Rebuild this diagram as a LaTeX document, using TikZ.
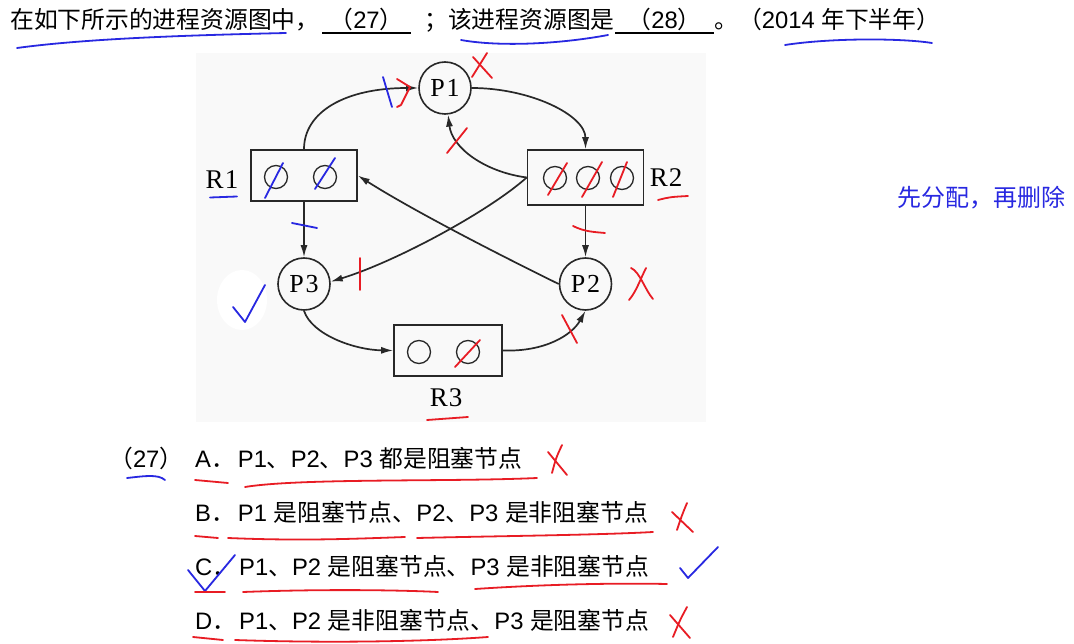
\documentclass[tikz,border=0pt]{standalone}
\usepackage{fontspec}
\setmainfont{Liberation Sans}
\newfontfamily\cjk{Noto Sans CJK SC}
\newfontfamily\dgfont{Liberation Serif}
\newcommand\cj[1]{{\cjk #1}}
\usetikzlibrary{arrows.meta}
\definecolor{inkred}{RGB}{232,28,36}
\definecolor{inkblue}{RGB}{40,40,225}
\definecolor{edgec}{RGB}{40,40,40}
\definecolor{bgpic}{RGB}{249,249,249}
\begin{document}
\begin{tikzpicture}[x=1pt,y=-1pt,
  proc/.style={circle,draw=edgec,line width=1.6pt,minimum size=52pt,inner sep=0pt,font=\dgfont\fontsize{26}{26}\selectfont},
  res/.style={rectangle,draw=edgec,line width=1.6pt,inner sep=0pt},
  tok/.style={circle,draw=edgec,line width=1.3pt,minimum size=23pt,inner sep=0pt},
  lbl/.style={font=\dgfont\fontsize{27}{27}\selectfont,inner sep=0pt},
  flow/.style={draw=edgec,line width=1.7pt,-{Latex[length=12pt,width=7pt]}},
  txt/.style={anchor=base west,inner sep=0pt,font=\fontsize{23.8}{28}\selectfont},
  redmark/.style={draw=inkred,line width=1.8pt,line cap=round,line join=round},
  bluemark/.style={draw=inkblue,line width=1.8pt,line cap=round,line join=round},
  blank/.style={draw=black,line width=1.3pt}
]
\useasboundingbox (0,0) rectangle (1074,644);
\fill[white] (0,0) rectangle (1074,644);
\fill[bgpic] (196,53) rectangle (706,422);
\fill[white] (242,300) ellipse [x radius=25, y radius=30];

% ---------- title ----------
\node[txt] (t1) at (10,29) {\cj{在如下所示的进程资源图中，}};
\draw[blank] (322,33) -- (411,33);
\node[txt,anchor=base] (t2) at (366.5,29) {\cj{（}27\cj{）}};
\node[txt] (t3) at (424,29) {\cj{；该进程资源图是}};
\draw[blank] (615,33) -- (714,33);
\node[txt,anchor=base] (t4) at (664.5,29) {\cj{（}28\cj{）}};
\node[txt] (t5) at (714,29) {\cj{。（}2014 \cj{年下半年）}};

% ---------- diagram ----------
\node[proc] (p1) at (445,88) {P\kern2pt1};
\node[proc] (p2) at (585.5,284) {P\kern2pt2};
\node[proc] (p3) at (304,284) {P\kern2pt3};
\node[res,minimum width=106pt,minimum height=51pt] (r1) at (304,175.5) {};
\node[res,minimum width=116pt,minimum height=55pt] (r2) at (585.5,177.5) {};
\node[res,minimum width=108pt,minimum height=51pt] (r3) at (448,350.5) {};
\node[tok] (r1a) at (276,177) {};
\node[tok] (r1b) at (325,177) {};
\node[tok] (r2a) at (555,178) {};
\node[tok] (r2b) at (588,178) {};
\node[tok] (r2c) at (622,178) {};
\node[tok] (r3a) at (419,352) {};
\node[tok] (r3b) at (468,352) {};
\node[lbl] (l1) at (222,180) {R\kern1pt1};
\node[lbl] (l2) at (666,178) {R\kern1pt2};
\node[lbl] (l3) at (446,398) {R\kern1pt3};

\draw[flow] (r1.north) .. controls (304,112) and (345,88) .. (p1);
\draw[flow] (p1) .. controls (530,88) and (585.5,115) .. (r2.north);
\draw[flow] (r2.west) .. controls (485,172) and (452,148) .. (p1);
\draw[flow] (r2.west) .. controls (488,212) and (395,262) .. (p3.5);
\draw[flow] (p2.west) .. controls (520,265) and (420,215) .. (r1.east);
\draw[flow] (r1) -- (p3);
\draw[flow] (r2) -- (p2);
\draw[flow] (p3.south) .. controls (312,335) and (355,350) .. (r3.west);
\draw[flow] (r3.east) .. controls (545,352) and (572,335) .. (p2.south);

% ---------- handwritten marks on diagram ----------
\draw[redmark] (473,57) -- (492,78);
\draw[redmark] (487,53) -- (472,77);
\draw[bluemark] (383,77) -- (392,107);
\draw[redmark] (397,79) -- (410,87) -- (401,105) -- (397,107);
\draw[redmark] (447,153) -- (467,128);
\draw[redmark] (548,195) -- (567,163);
\draw[redmark] (582,197) -- (602,162);
\draw[redmark] (613,197) -- (627,162);
\draw[bluemark] (265,198) -- (283,163);
\draw[bluemark] (315,189) -- (335,158);
\draw[bluemark] (210,197.5) -- (237,196.5);
\draw[redmark] (658,200) .. controls (670,197) .. (688,196);
\draw[bluemark] (292,223) -- (317,228);
\draw[redmark] (573,226) .. controls (585,232) and (595,232) .. (605,233);
\draw[redmark] (360,258) -- (360,290);
\draw[redmark] (631,268) .. controls (640,272) and (645,290) .. (653,299);
\draw[redmark] (646,268) .. controls (640,280) and (636,292) .. (629,300);
\draw[redmark] (562,315) -- (577,343);
\draw[redmark] (455,367) -- (480,340);
\draw[redmark] (427,420) -- (468,417);
\draw[bluemark] (233,307) -- (245,322) -- (265,285);

% ---------- title underlines ----------
\draw[bluemark] (17,48) .. controls (90,38) and (200,35) .. (286,33);
\draw[bluemark] (461,40) .. controls (500,47) and (560,44) .. (608,35);
\draw[bluemark] (785,45) .. controls (830,38) and (900,38) .. (932,43);

% ---------- handwritten note ----------
\node[inner sep=0pt,text=inkblue,font=\cjk\fontsize{24}{24}\selectfont] (note) at (981,198) {先分配，再删除};

% ---------- options ----------
\node[txt] (q27) at (109,467) {\cj{（}27\cj{）}};
\node[txt] (oa) at (195,467) {A\cj{．}\kern3pt P1\cj{、}P2\cj{、}P3 \cj{都是阻塞节点}};
\node[txt] (ob) at (195,521) {B\cj{．}\kern3pt P1 \cj{是阻塞节点、}P2\cj{、}P3 \cj{是非阻塞节点}};
\node[txt] (oc) at (195,575) {C\cj{．}\kern3pt P1\cj{、}P2 \cj{是阻塞节点、}P3 \cj{是非阻塞节点}};
\node[txt] (od) at (195,629) {D\cj{．}\kern3pt P1\cj{、}P2 \cj{是非阻塞节点、}P3 \cj{是阻塞节点}};

\draw[bluemark] (127,478) .. controls (145,476) and (158,474) .. (165,480);
\draw[redmark] (195,480) -- (228,483);
\draw[redmark] (245,487) .. controls (300,478) and (450,482) .. (537,478);
\draw[redmark] (548,452) -- (567,475);
\draw[redmark] (562,445) .. controls (556,458) .. (552,473);
\draw[redmark] (195,536) -- (218,538);
\draw[redmark] (228,538) .. controls (300,541) and (350,539) .. (405,537);
\draw[redmark] (417,538) .. controls (500,536) and (600,535) .. (653,532);
\draw[redmark] (672,512) -- (693,532);
\draw[redmark] (687,503) .. controls (682,515) .. (677,530);
\draw[bluemark] (188,570) -- (205,591) -- (235,555);
\draw[redmark] (195,592) -- (225,592);
\draw[redmark] (243,592) .. controls (320,589) and (400,590) .. (438,592);
\draw[redmark] (475,589) .. controls (550,584) and (620,583) .. (667,584);
\draw[bluemark] (680,568) -- (688,578) -- (718,547);
\draw[redmark] (193,637) -- (223,640);
\draw[redmark] (235,640) .. controls (320,643) and (420,642) .. (488,637);
\draw[redmark] (670,615) -- (690,638);
\draw[redmark] (687,607) .. controls (680,620) .. (673,637);
\end{tikzpicture}
\end{document}
